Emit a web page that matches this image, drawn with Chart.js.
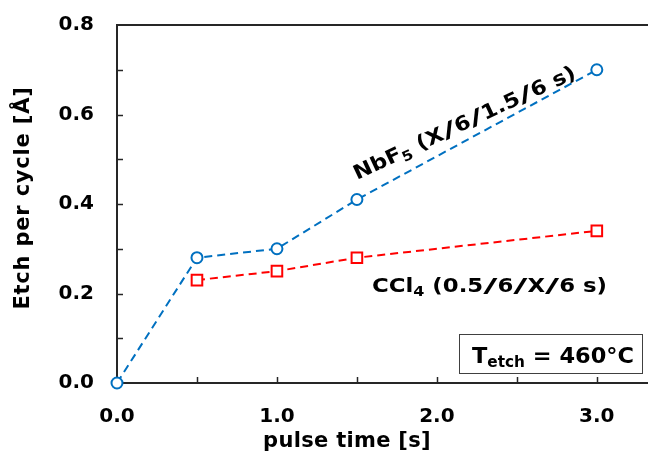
<!DOCTYPE html>
<html>
<head>
<meta charset="utf-8">
<script src="https://cdn.jsdelivr.net/npm/chart.js@4/dist/chart.umd.min.js"></script>
<style>
  html, body { margin: 0; padding: 0; background: #fff; }
  #wrap { width: 648px; height: 458px; position: relative; }
</style>
</head>
<body>
<div id="wrap"><canvas id="c" width="648" height="458"></canvas></div>
<script>
// Etch per cycle vs. pulse time for the two precursors
const nbf5Time = [0, 0.5, 1.0, 1.5, 3.0];
const nbf5Epc  = [0, 0.28, 0.30, 0.41, 0.70];
const ccl4Time = [0.5, 1.0, 1.5, 3.0];
const ccl4Epc  = [0.23, 0.25, 0.28, 0.34];
const xTicks = [0, 0.5, 1.0, 1.5, 2.0, 2.5, 3.0];
const yTicks = [0, 0.1, 0.2, 0.3, 0.4, 0.5, 0.6, 0.7, 0.8];
const xLabels = [0, 1, 2, 3];
const yLabels = [0, 0.2, 0.4, 0.6, 0.8];

const FONT = "'DejaVu Sans', Verdana, sans-serif";
const AXIS = '#262626';

const toPoints = (xs, ys) => xs.map((x, i) => ({ x: x, y: ys[i] }));

// inward tick marks, top frame line and text annotations
const decor = {
  id: 'decor',
  afterDraw(chart) {
    const { ctx, chartArea: a, scales: { x, y } } = chart;
    ctx.save();
    ctx.strokeStyle = AXIS;
    ctx.lineWidth = 2;
    ctx.beginPath();
    ctx.moveTo(a.left - 1, a.top);
    ctx.lineTo(a.right, a.top);
    ctx.stroke();
    ctx.lineWidth = 1.5;
    xTicks.forEach(v => {
      if (v === 0) return;
      const px = Math.round(x.getPixelForValue(v)) + 0.5;
      ctx.beginPath(); ctx.moveTo(px, a.bottom); ctx.lineTo(px, a.bottom - 6); ctx.stroke();
    });
    yTicks.forEach(v => {
      if (v === 0 || v === 0.8) return;
      const py = Math.round(y.getPixelForValue(v)) + 0.5;
      ctx.beginPath(); ctx.moveTo(a.left, py); ctx.lineTo(a.left + 6, py); ctx.stroke();
    });

    ctx.fillStyle = '#000';
    // axis titles
    ctx.font = `bold 21px ${FONT}`;
    ctx.textAlign = 'center';
    ctx.textBaseline = 'middle';
    ctx.letterSpacing = '0.3px';
    ctx.fillText('pulse time [s]', 347, 442);
    ctx.save();
    ctx.translate(24, 198);
    ctx.rotate(-Math.PI / 2);
    ctx.letterSpacing = '0.8px';
    ctx.fillText('Etch per cycle [Å]', 0, 0);
    ctx.restore();
    ctx.letterSpacing = '0px';

    // text runs with subscripts; slashes are drawn wide, and the whole run
    // is stretched horizontally to the requested width
    const SLASH = 1.7;
    function runWidth(parts) {
      let w = 0;
      parts.forEach(p => {
        ctx.font = `bold ${p.size}px ${FONT}`;
        for (const ch of p.t) w += ctx.measureText(ch).width * (ch === '/' ? SLASH : 1);
      });
      return w;
    }
    function subText(parts, x0, y0, width) {
      ctx.save();
      ctx.translate(x0, y0);
      if (width) ctx.scale(width / runWidth(parts), 1);
      ctx.textAlign = 'left';
      ctx.textBaseline = 'alphabetic';
      let cx = 0;
      parts.forEach(p => {
        ctx.font = `bold ${p.size}px ${FONT}`;
        for (const ch of p.t) {
          const w = ctx.measureText(ch).width;
          if (ch === '/') {
            ctx.save();
            ctx.translate(cx, p.dy || 0);
            ctx.scale(SLASH, 1);
            ctx.fillText(ch, 0, 0);
            ctx.restore();
            cx += w * SLASH;
          } else {
            ctx.fillText(ch, cx, p.dy || 0);
            cx += w;
          }
        }
      });
      ctx.restore();
    }

    ctx.save();
    ctx.translate(357, 180);
    ctx.rotate(-25 * Math.PI / 180);
    subText([{ t: 'NbF', size: 20 }, { t: '5', size: 14, dy: 4 }, { t: ' (X/6/1.5/6 s)', size: 20 }], 0, 0, 243);
    ctx.restore();

    subText([{ t: 'CCl', size: 20 }, { t: '4', size: 14, dy: 4 }, { t: ' (0.5/6/X/6 s)', size: 20 }], 372, 292, 235);

    // temperature box
    ctx.fillStyle = '#fff';
    ctx.fillRect(459, 334, 183, 39);
    ctx.strokeStyle = '#404040';
    ctx.lineWidth = 1;
    ctx.strokeRect(459.5, 334.5, 183, 39);
    ctx.fillStyle = '#000';
    subText([{ t: 'T', size: 22 }, { t: 'etch', size: 15, dy: 4 }, { t: ' = 460°C', size: 22 }], 472, 363, 162);
    ctx.restore();
  }
};

new Chart(document.getElementById('c'), {
  type: 'line',
  data: {
    datasets: [
      {
        label: 'NbF5',
        data: toPoints(nbf5Time, nbf5Epc),
        borderColor: '#0070C0',
        backgroundColor: '#fff',
        borderWidth: 2,
        borderDash: [8, 5],
        pointStyle: 'circle',
        pointRadius: 5.5,
        pointBorderWidth: 2,
        pointBorderColor: '#0070C0',
        pointBackgroundColor: '#fff',
        clip: false
      },
      {
        label: 'CCl4',
        data: toPoints(ccl4Time, ccl4Epc),
        borderColor: '#FF0000',
        backgroundColor: '#fff',
        borderWidth: 2,
        borderDash: [8, 5],
        pointStyle: 'rect',
        pointRadius: 7.5,
        pointBorderWidth: 2,
        pointBorderColor: '#FF0000',
        pointBackgroundColor: '#fff',
        clip: false
      }
    ]
  },
  options: {
    responsive: false,
    animation: false,
    layout: { autoPadding: false, padding: { top: 25, right: 0, left: 0, bottom: 0 } },
    plugins: { legend: { display: false }, tooltip: { enabled: false } },
    scales: {
      x: {
        type: 'linear',
        min: 0,
        max: 3.32,
        afterBuildTicks: s => { s.ticks = xLabels.map(v => ({ value: v })); },
        afterFit: s => { s.height = 75; s.paddingLeft = 0; s.paddingRight = 0; },
        grid: { display: true, drawOnChartArea: false, drawTicks: false },
        border: { display: true, color: AXIS, width: 2 },
        ticks: {
          padding: 22,
          color: '#000',
          font: { family: FONT, size: 20, weight: 'bold' },
          maxRotation: 0,
          callback: v => v.toFixed(1)
        }
      },
      y: {
        type: 'linear',
        min: 0,
        max: 0.8,
        afterBuildTicks: s => { s.ticks = yLabels.map(v => ({ value: v })); },
        afterFit: s => { s.width = 117; s.paddingTop = 0; s.paddingBottom = 0; },
        grid: { display: true, drawOnChartArea: false, drawTicks: false },
        border: { display: true, color: AXIS, width: 2 },
        ticks: {
          padding: 23,
          color: '#000',
          font: { family: FONT, size: 20, weight: 'bold' },
          callback: v => v.toFixed(1)
        }
      }
    }
  },
  plugins: [decor]
});
</script>
</body>
</html>
